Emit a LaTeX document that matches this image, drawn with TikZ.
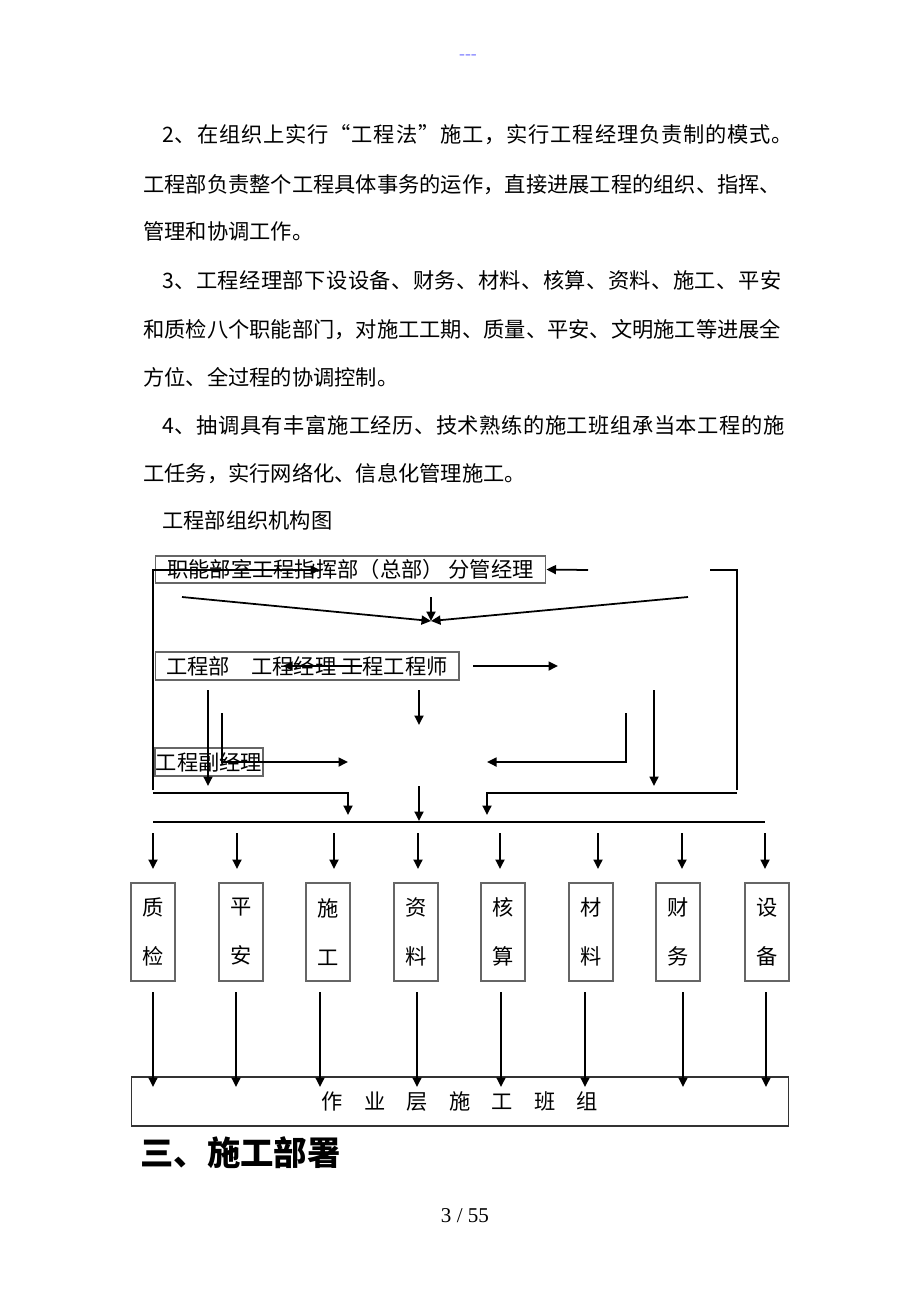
\documentclass[tikz,border=0pt]{standalone}
\usepackage{fontspec}
\setmainfont{Noto Sans CJK SC}
\newfontfamily\pagefont{Liberation Serif}
\usetikzlibrary{arrows.meta, positioning}
\tikzset{every node/.style={font=\fontsize{12.1}{14}\selectfont}, every path/.style={line join=miter}, >={Triangle[length=1.9mm, width=1.8mm]}}

\begin{document}
\begin{tikzpicture}[
    x=0.02cm, y=-0.02cm,
    para/.style={
        anchor=west,
        inner sep=0pt,
        text height=10.5pt,
        text depth=1.5pt
    },
    frame/.style={
        draw=black!60,
        line width=0.6pt,
        inner sep=0pt
    },
    dept/.style={
        frame,
        minimum width=0.88cm,
        minimum height=1.96cm,
        align=center,
        font=\fontsize{12.1}{27.8}\selectfont
    },
    link/.style={
        line width=1pt
    },
    arrow/.style={
        link,
        ->
    }
]
\useasboundingbox (0,0) rectangle (920,1302);

% page text
\node[font=\pagefont\fontsize{10}{12}\selectfont, text=blue!50] (hd) at (468,57) {{-}{-}{-}};
\node[para] (p1) at (162,135) {\addfontfeature{LetterSpace=4}2、在组织上实行“工程法”施工，实行工程经理负责制的模式。};
\node[para] (p2) at (143,185) {工程部负责整个工程具体事务的运作，直接进展工程的组织、指挥、};
\node[para] (p3) at (143,232) {管理和协调工作。};
\node[para] (p4) at (162,281) {\addfontfeature{LetterSpace=2}3、工程经理部下设设备、财务、材料、核算、资料、施工、平安};
\node[para] (p5) at (143,330) {和质检八个职能部门，对施工工期、质量、平安、文明施工等进展全};
\node[para] (p6) at (143,378) {方位、全过程的协调控制。};
\node[para] (p7) at (162,426) {\addfontfeature{LetterSpace=2.5}4、抽调具有丰富施工经历、技术熟练的施工班组承当本工程的施};
\node[para] (p8) at (143,474) {工任务，实行网络化、信息化管理施工。};
\node[para] (p9) at (162,521) {工程部组织机构图};

% upper part of the chart
\node[frame, minimum width=7.82cm, minimum height=0.54cm] (zb) at (350.5,569.5) {职能部室工程指挥部（总部） 分管经理};
\node[frame, minimum width=6.08cm, minimum height=0.56cm] (gcb) at (307,666) {工程部　工程经理 工程工程师};
\node[frame, minimum width=2.16cm, minimum height=0.56cm] (fjl) at (209,762) {工程副经理};

\coordinate (lbBot) at (153,790);
\coordinate (lbTip) at (320,570);
\coordinate (raTail) at (588,570);
\coordinate (rbTop) at (710,570);
\coordinate (rbBot) at (737,790);
\draw[arrow] (lbBot) |- (lbTip);
\draw[arrow] (raTail) -- (zb.east);
\draw[link] (rbTop) -| (rbBot);

\coordinate (hjL) at (182,597);
\coordinate (hjT) at (431,597);
\coordinate (hjR) at (688,597);
\coordinate (hj) at (431,621);
\draw[arrow] (hjL) -- (hj);
\draw[arrow] (hjR) -- (hj);
\draw[arrow] (hjT) -- (hj);

\coordinate (jlTail) at (362,666);
\coordinate (jlTip) at (283,666);
\coordinate (gsTail) at (473,666);
\coordinate (gsTip) at (558,666);
\draw[arrow] (jlTail) -- (jlTip);
\draw[arrow] (gsTail) -- (gsTip);

\coordinate (v1a) at (208,690);
\coordinate (v1b) at (208,786);
\coordinate (v2a) at (419,690);
\coordinate (v2b) at (419,725);
\coordinate (v3a) at (654,690);
\coordinate (v3b) at (654,786);
\draw[arrow] (v1a) -- (v1b);
\draw[arrow] (v2a) -- (v2b);
\draw[arrow] (v3a) -- (v3b);

\coordinate (z1a) at (222,713);
\coordinate (z1b) at (348,762);
\coordinate (z2a) at (626,713);
\coordinate (z2b) at (487,762);
\draw[arrow] (z1a) |- (z1b);
\draw[arrow] (z2a) |- (z2b);

\coordinate (h1a) at (153,793);
\coordinate (h1b) at (348,815);
\coordinate (h2a) at (737,793);
\coordinate (h2b) at (487,815);
\coordinate (h3a) at (419,786);
\coordinate (h3b) at (419,821);
\draw[arrow] (h1a) -| (h1b);
\draw[arrow] (h2a) -| (h2b);
\draw[arrow] (h3a) -- (h3b);

\coordinate (busL) at (153,822);
\coordinate (busR) at (765,822);
\draw[link] (busL) -- (busR);

% departments
\node[dept] (zj) at (153,932) {质\\检};
\node[dept] (pa) at (241,932) {平\\安};
\node[dept] (sg) at (328,932) {施\\工};
\node[dept] (zl) at (416,932) {资\\料};
\node[dept] (hs) at (503,932) {核\\算};
\node[dept] (cl) at (591,932) {材\\料};
\node[dept] (cw) at (678,932) {财\\务};
\node[dept] (sb) at (767,932) {设\\备};

\coordinate (t1a) at (153,833); \coordinate (t1b) at (153,869);
\coordinate (t2a) at (237,833); \coordinate (t2b) at (237,869);
\coordinate (t3a) at (334,833); \coordinate (t3b) at (334,869);
\coordinate (t4a) at (418,833); \coordinate (t4b) at (418,869);
\coordinate (t5a) at (500,833); \coordinate (t5b) at (500,869);
\coordinate (t6a) at (598,833); \coordinate (t6b) at (598,869);
\coordinate (t7a) at (682,833); \coordinate (t7b) at (682,869);
\coordinate (t8a) at (765,833); \coordinate (t8b) at (765,869);
\draw[arrow] (t1a) -- (t1b);
\draw[arrow] (t2a) -- (t2b);
\draw[arrow] (t3a) -- (t3b);
\draw[arrow] (t4a) -- (t4b);
\draw[arrow] (t5a) -- (t5b);
\draw[arrow] (t6a) -- (t6b);
\draw[arrow] (t7a) -- (t7b);
\draw[arrow] (t8a) -- (t8b);

% work teams
\node[frame, draw=black!80, minimum width=13.16cm, minimum height=0.98cm] (bz) at (460,1101.5) {作　业　层　施　工　班　组};

\coordinate (b1a) at (153,992); \coordinate (b1b) at (153,1087);
\coordinate (b2a) at (236,992); \coordinate (b2b) at (236,1087);
\coordinate (b3a) at (320,992); \coordinate (b3b) at (320,1087);
\coordinate (b4a) at (417,992); \coordinate (b4b) at (417,1087);
\coordinate (b5a) at (501,992); \coordinate (b5b) at (501,1087);
\coordinate (b6a) at (585,992); \coordinate (b6b) at (585,1087);
\coordinate (b7a) at (683,992); \coordinate (b7b) at (683,1087);
\coordinate (b8a) at (766,992); \coordinate (b8b) at (766,1087);
\draw[arrow] (b1a) -- (b1b);
\draw[arrow] (b2a) -- (b2b);
\draw[arrow] (b3a) -- (b3b);
\draw[arrow] (b4a) -- (b4b);
\draw[arrow] (b5a) -- (b5b);
\draw[arrow] (b6a) -- (b6b);
\draw[arrow] (b7a) -- (b7b);
\draw[arrow] (b8a) -- (b8b);

% heading and page number
\node[anchor=west, inner sep=0pt, font=\fontsize{19}{20}\selectfont\bfseries] (bs) at (140,1153) {三、施工部署};
\node[font=\pagefont\fontsize{12}{14}\selectfont] (ym) at (465,1216) {3 / 55};

\end{tikzpicture}
\end{document}
